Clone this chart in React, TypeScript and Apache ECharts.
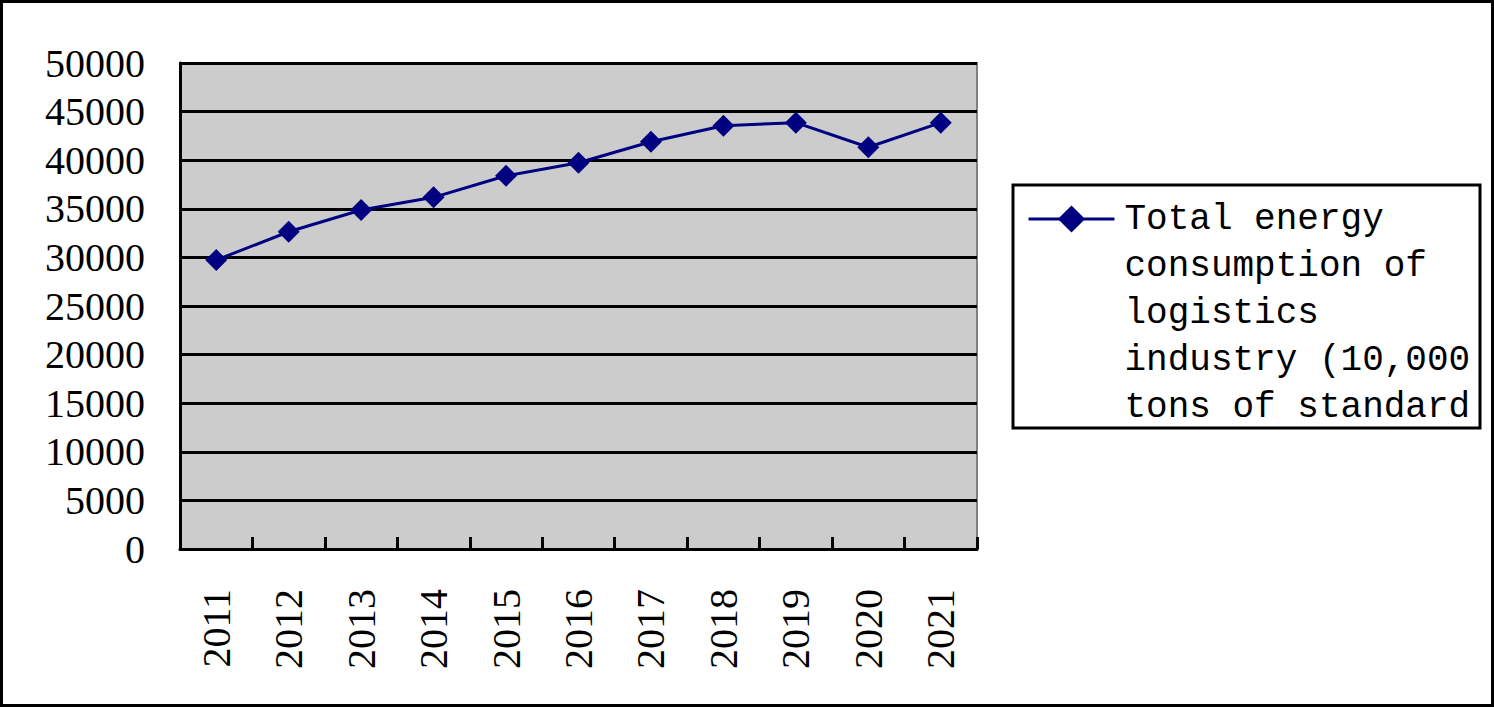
import React, { useEffect, useRef } from "react";
import * as echarts from "echarts";

const years = ["2011", "2012", "2013", "2014", "2015", "2016", "2017", "2018", "2019", "2020", "2021"];
const consumption = [29730, 32640, 34880, 36180, 38400, 39740, 41900, 43550, 43860, 41330, 43860];
const seriesName =
  "Total energy consumption of logistics industry (10,000 tons of standard";
const legendLines = ["Total energy", "consumption of", "logistics", "industry (10,000", "tons of standard"];

export default function App() {
  const ref = useRef<HTMLDivElement>(null);
  useEffect(() => {
    if (!ref.current) return;
    const chart = echarts.init(ref.current, undefined, { renderer: "svg" });
    const axisFont = "'Liberation Serif', 'Times New Roman', serif";
    chart.setOption({
      animation: false,
      backgroundColor: "#ffffff",
      grid: {
        left: 180,
        top: 63,
        right: 517,
        bottom: 158,
        show: true,
        backgroundColor: "#CCCCCC",
        borderColor: "#808080",
        borderWidth: 2,
      },
      xAxis: {
        type: "category",
        data: years,
        boundaryGap: true,
        axisLine: { show: true, lineStyle: { color: "#000", width: 3 } },
        axisTick: { show: true, inside: true, length: 12, lineStyle: { color: "#000", width: 3 } },
        axisLabel: {
          rotate: 90,
          margin: 40,
          color: "#000",
          fontFamily: axisFont,
          fontSize: 40,
        },
        splitLine: { show: false },
      },
      yAxis: {
        type: "value",
        min: 0,
        max: 50000,
        interval: 5000,
        axisLine: { show: true, lineStyle: { color: "#000", width: 3 } },
        axisTick: { show: true, inside: true, length: 12, lineStyle: { color: "#000", width: 3 } },
        axisLabel: {
          margin: 35,
          color: "#000",
          fontFamily: axisFont,
          fontSize: 40,
          formatter: (v: number) => String(v),
        },
        splitLine: { show: true, lineStyle: { color: "#000", width: 2.8 } },
      },
      legend: {
        show: true,
        data: [seriesName],
        orient: "vertical",
        left: 1027,
        top: 7.5,
        padding: 0,
        borderWidth: 0,
        itemWidth: 86,
        itemHeight: 34,
        lineStyle: { width: 3 },
        formatter: () => "\n\n\n\n" + legendLines.join("\n"),
        textStyle: {
          color: "#000",
          fontFamily: "'Liberation Mono', 'DejaVu Sans Mono', monospace",
          fontSize: 36,
          lineHeight: 47,
          padding: [0, 0, 0, 5],
        },
      },
      graphic: [
        {
          type: "rect",
          shape: { x: 1.5, y: 1.5, width: 1491, height: 704 },
          style: { fill: "none", stroke: "#000", lineWidth: 3 },
          silent: true,
        },
        {
          type: "rect",
          shape: { x: 1013, y: 185, width: 467, height: 243 },
          style: { fill: "none", stroke: "#000", lineWidth: 3 },
          silent: true,
        },
      ],
      series: [
        {
          name: seriesName,
          type: "line",
          data: consumption,
          symbol: "diamond",
          symbolSize: 22,
          color: "#000080",
          lineStyle: { color: "#000080", width: 3 },
          itemStyle: { color: "#000080" },
        },
      ],
    });
    return () => chart.dispose();
  }, []);
  return (
    <div
      ref={ref}
      style={{ position: "fixed", left: 0, top: 0, width: 1494, height: 707 }}
    />
  );
}
